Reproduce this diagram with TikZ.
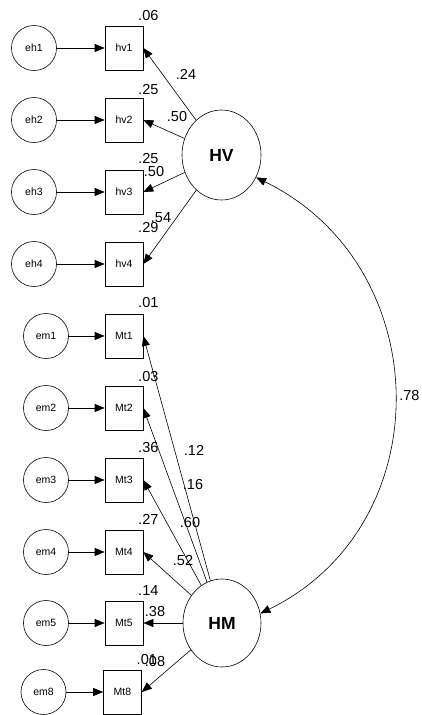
\documentclass[tikz,border=0pt]{standalone}
\usepackage{fontspec}
\setmainfont{Liberation Sans}
\usetikzlibrary{shapes.geometric,arrows.meta,positioning}

\begin{document}
\begin{tikzpicture}[x=1pt, y=1pt, line width=0.6pt,
    err/.style = {draw, circle, minimum size=45pt, inner sep=0pt, font=\fontsize{10.5}{12}\selectfont},
    obs/.style = {draw, rectangle, minimum width=38pt, minimum height=44pt, inner sep=0pt, font=\fontsize{10.5}{12}\selectfont},
    lat/.style = {draw, ellipse, minimum width=79pt, minimum height=90pt, inner sep=0pt, font=\fontsize{17.5}{20}\selectfont\bfseries},
    num/.style = {inner sep=0pt, font=\fontsize{14.5}{17}\selectfont},
    arr/.style = {-{Triangle[length=10pt, width=8pt]}}]

    \useasboundingbox (0,0) rectangle (421,-715);

    % Latent factors
    \node[lat] (HV) at (221.5,-155) {HV};
    \node[lat, minimum width=78pt, minimum height=88pt] (HM) at (222,-623) {HM};

    % HV indicators and their errors
    \foreach \i/\y in {1/48, 2/120, 3/192, 4/264}{
        \node[obs] (hv\i) at (124,-\y) {hv\i};
        \node[err] (eh\i) at (34,-\y) {eh\i};
        \draw[arr] (eh\i) -- (hv\i);
        \draw[arr] (HV) -- (hv\i.east);
      }

    % HM indicators and their errors
    \foreach \i/\x/\ex/\y in {1/124/46/336, 2/124/46/408, 3/124/46/480, 4/124/46/552, 5/124/46/623, 8/122.5/43.5/692}{
        \node[obs] (Mt\i) at (\x,-\y) {Mt\i};
        \node[err] (em\i) at (\ex,-\y) {em\i};
        \draw[arr] (em\i) -- (Mt\i);
        \draw[arr] (HM) -- (Mt\i.east);
      }

    % Squared multiple correlations
    \foreach \n/\v/\d in {hv1/.06/5pt, hv2/.25/3pt, hv3/.25/6pt, hv4/.29/9pt, Mt1/.01/6pt, Mt2/.03/4pt, Mt3/.36/5pt, Mt4/.27/5pt, Mt5/.14/5pt, Mt8/.01/5pt}{
        \node[num, anchor=base] (r-\n) at ([xshift=5pt, yshift=\d]\n.north east) {\v};
      }

    % Loadings
    \foreach \n/\v/\x/\y in {hv1/.24/186/74, hv2/.50/177/117, hv3/.50/154/172, hv4/.54/161/218,
        Mt1/.12/194/450, Mt2/.16/193/485, Mt3/.60/190/523, Mt4/.52/183/561, Mt5/.38/155/612, Mt8/.08/155/662}{
        \node[num] (l-\n) at (\x,-\y) {\v};
      }

    % Covariance
    \draw[{Triangle[length=10pt, width=8pt]}-{Triangle[length=10pt, width=8pt]}]
        (HV.-33) to[out=-26, in=26, looseness=1.18] node[num, pos=0.5, right=5pt] (cov) {.78} (HM.14);
\end{tikzpicture}
\end{document}
